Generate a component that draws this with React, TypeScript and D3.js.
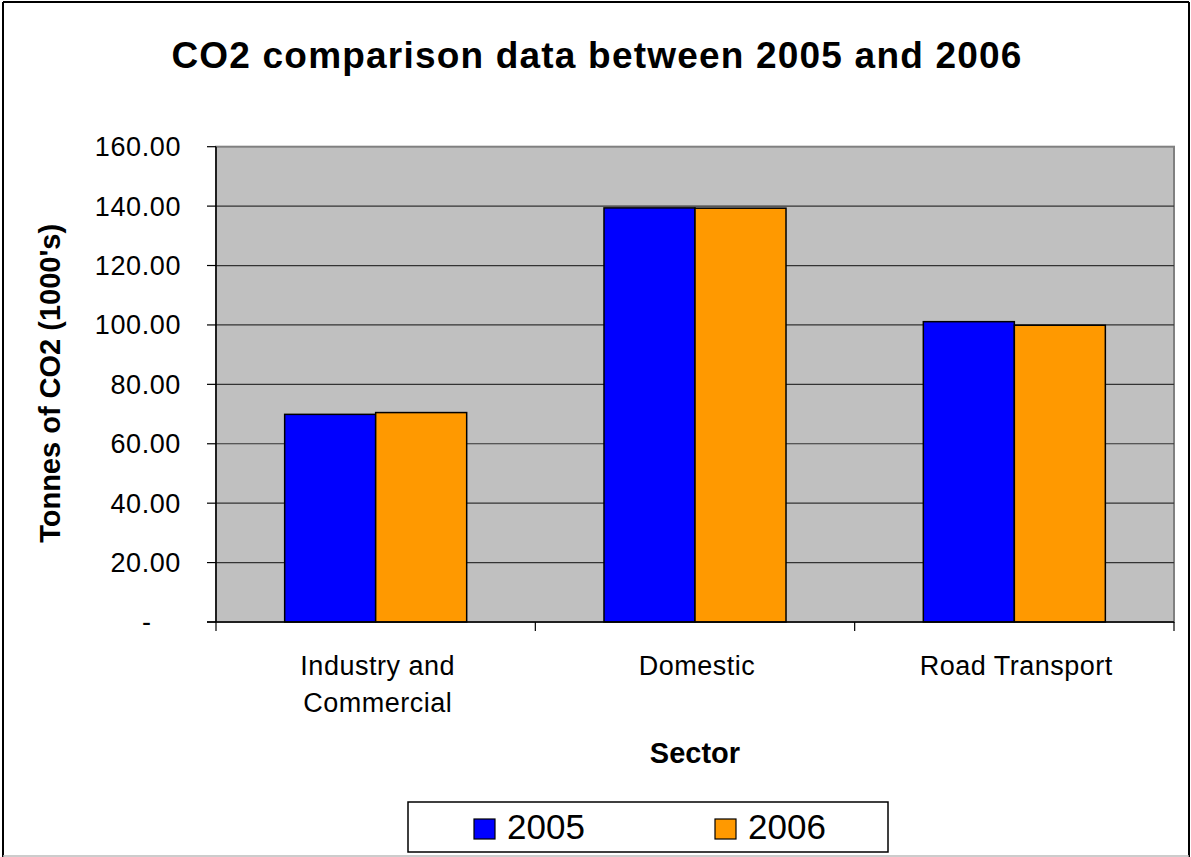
import * as d3 from 'd3';

// Chart values
const categories = ['Industry and Commercial', 'Domestic', 'Road Transport'];
const categoryLines = [['Industry and', 'Commercial'], ['Domestic'], ['Road Transport']];
const seriesNames = ['2005', '2006'];
const values2005 = [69.9, 139.4, 101.1];
const values2006 = [70.5, 139.3, 99.9];
const yTicks = [0, 20, 40, 60, 80, 100, 120, 140, 160];
const colors = ['#0000FF', '#FF9900'];

const W = 1191;
const H = 857;
const plot = { left: 216, top: 146.7, right: 1174, bottom: 622 };
const font = 'Arial, "Liberation Sans", Helvetica, sans-serif';

export default function App() {
  const y = d3.scaleLinear().domain([0, 160]).range([plot.bottom, plot.top]);
  const x0 = d3
    .scaleBand<string>()
    .domain(categories)
    .range([plot.left, plot.right])
    .paddingInner(0.43)
    .paddingOuter(0.215);
  const x1 = d3.scaleBand<string>().domain(seriesNames).range([0, x0.bandwidth()]);
  const step = x0.step();
  const series = [values2005, values2006];
  const fmt = d3.format('.2f');

  // category boundary ticks on the x axis
  const xTickPos = d3.range(categories.length + 1).map((i) => plot.left + i * step);

  return (
    <svg
      width={W}
      height={H}
      style={{ position: 'absolute', left: 0, top: 0, background: '#fff' }}
      fontFamily={font}
    >
      {/* outer chart border */}
      <line x1={3} y1={2} x2={1189} y2={2} stroke="#000" strokeWidth={2} />
      <line x1={3} y1={2} x2={3} y2={857} stroke="#000" strokeWidth={2} />
      <line x1={1189} y1={2} x2={1189} y2={857} stroke="#000" strokeWidth={2} />
      <line x1={3} y1={856} x2={1189} y2={856} stroke="#bbb" strokeWidth={1.5} />

      <text
        x={597}
        y={68}
        textAnchor="middle"
        fontSize={37}
        fontWeight="bold"
        letterSpacing={1.2}
      >
        CO2 comparison data between 2005 and 2006
      </text>

      {/* plot area */}
      <rect
        x={plot.left}
        y={plot.top}
        width={plot.right - plot.left}
        height={plot.bottom - plot.top}
        fill="#C0C0C0"
        stroke="#808080"
        strokeWidth={2}
      />
      {yTicks.slice(1, -1).map((t) => (
        <line key={t} x1={plot.left} x2={plot.right} y1={y(t)} y2={y(t)} stroke="#333" strokeWidth={1.2} />
      ))}

      {/* bars */}
      {categories.map((c, ci) => (
        <g key={c} transform={`translate(${x0(c)},0)`}>
          {seriesNames.map((s, si) => (
            <rect
              key={s}
              x={x1(s)}
              y={y(series[si][ci])}
              width={x1.bandwidth()}
              height={y(0) - y(series[si][ci])}
              fill={colors[si]}
              stroke="#000"
              strokeWidth={1.5}
            />
          ))}
        </g>
      ))}

      {/* y axis */}
      <line x1={plot.left} x2={plot.left} y1={plot.top} y2={plot.bottom} stroke="#000" strokeWidth={1.5} />
      {yTicks.map((t) => (
        <g key={t}>
          <line x1={plot.left - 9} x2={plot.left} y1={y(t)} y2={y(t)} stroke="#000" strokeWidth={1.2} />
          <text
            x={t === 0 ? 151 : 181}
            y={y(t)}
            dy="0.35em"
            textAnchor="end"
            fontSize={27}
            letterSpacing={t === 0 ? 0 : 0.6}
          >
            {t === 0 ? '-' : fmt(t)}
          </text>
        </g>
      ))}

      {/* x axis */}
      <line x1={plot.left - 9} x2={plot.right} y1={plot.bottom} y2={plot.bottom} stroke="#000" strokeWidth={1.5} />
      {xTickPos.map((p, i) => (
        <line key={i} x1={p} x2={p} y1={plot.bottom} y2={plot.bottom + 9} stroke="#000" strokeWidth={1.2} />
      ))}
      {categories.map((c, ci) => (
        <text key={c} textAnchor="middle" fontSize={27} letterSpacing={0.5}>
          {categoryLines[ci].map((ln, li) => (
            <tspan key={li} x={(x0(c) as number) + x0.bandwidth() / 2 + 2} y={675 + li * 37}>
              {ln}
            </tspan>
          ))}
        </text>
      ))}

      {/* axis titles */}
      <text x={695} y={763} textAnchor="middle" fontSize={29} fontWeight="bold">
        Sector
      </text>
      <text
        transform={`translate(60,${(plot.top + plot.bottom) / 2 - 1}) rotate(-90)`}
        textAnchor="middle"
        fontSize={29}
        fontWeight="bold"
      >
        Tonnes of CO2 (1000's)
      </text>

      {/* legend */}
      <rect x={408} y={802} width={480} height={50} fill="#fff" stroke="#000" strokeWidth={1.5} />
      {seriesNames.map((s, si) => (
        <g key={s} transform={`translate(${474 + si * 241},0)`}>
          <rect x={0} y={819} width={21} height={20} fill={colors[si]} stroke="#000" strokeWidth={1.2} />
          <text x={33} y={839} fontSize={35}>
            {s}
          </text>
        </g>
      ))}
    </svg>
  );
}
